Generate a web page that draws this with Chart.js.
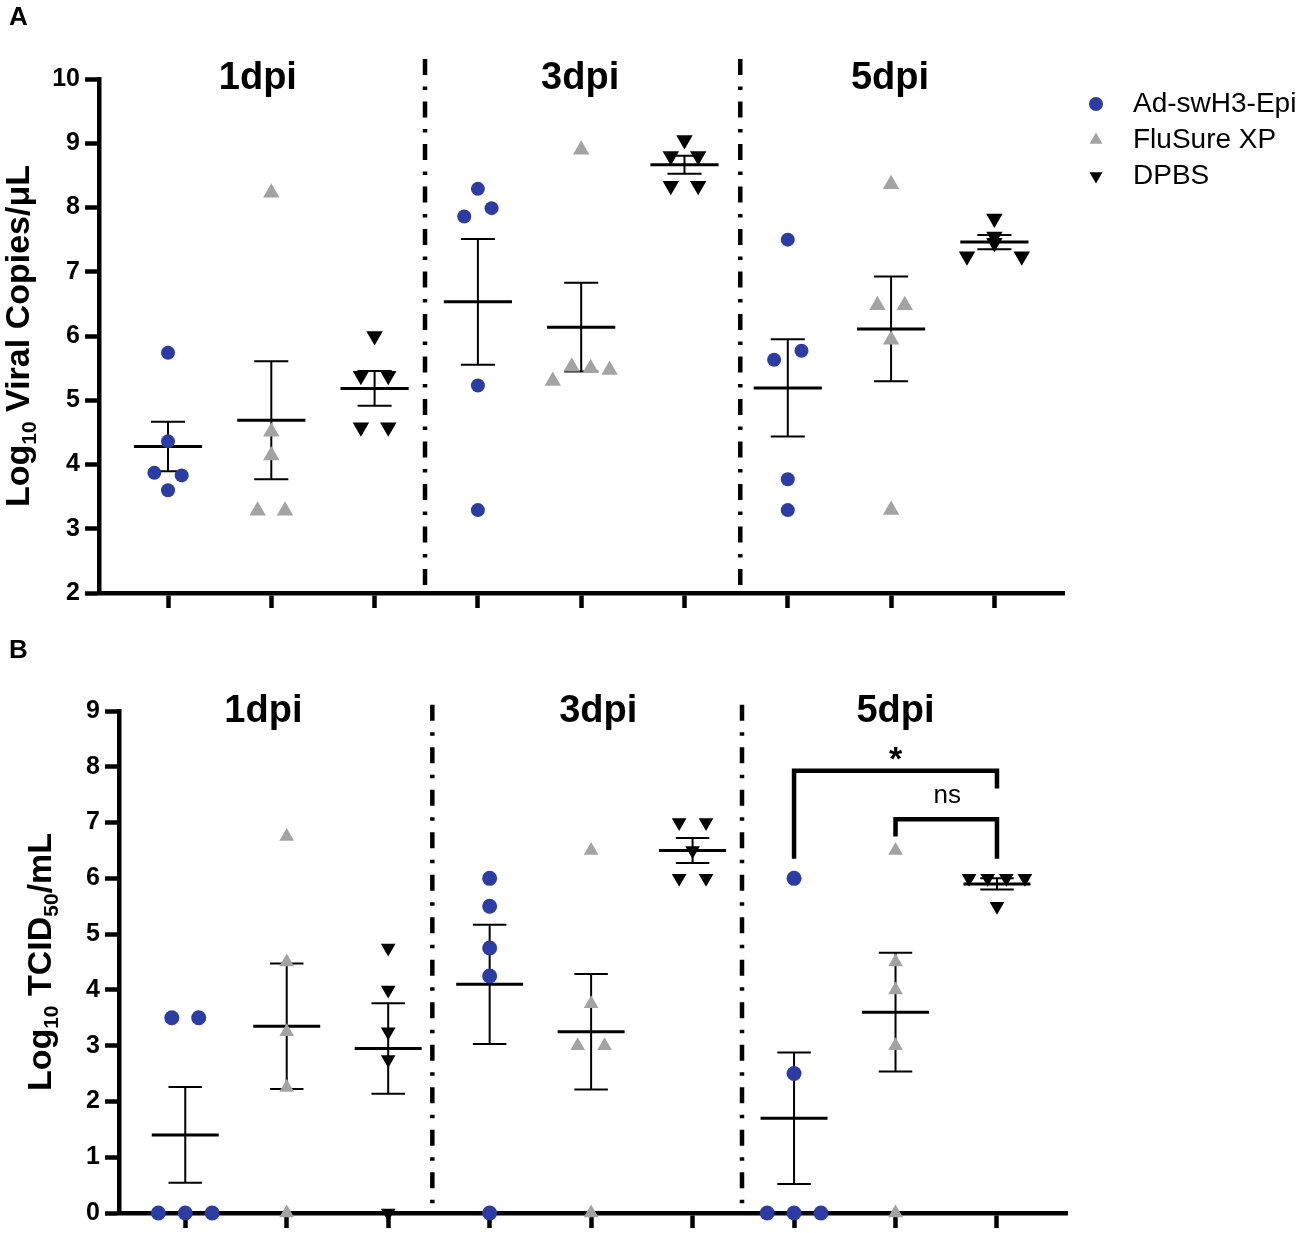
<!DOCTYPE html>
<html>
<head>
<meta charset="utf-8">
<script src="https://cdn.jsdelivr.net/npm/chart.js@4.4.1/dist/chart.umd.min.js"></script>
<style>
  html, body { margin: 0; padding: 0; background: #fff; }
  body { width: 1299px; height: 1233px; position: relative; overflow: hidden; }
  canvas { position: absolute; left: 0; }
  #chartA { top: 0; }
  #chartB { top: 620px; }
</style>
</head>
<body>
<canvas id="chartA" width="1299" height="620" style="width:1299px;height:620px"></canvas>
<canvas id="chartB" width="1299" height="613" style="width:1299px;height:613px"></canvas>
<script>
const groups = ["Ad-swH3-Epi", "FluSure XP", "DPBS"];
const days = ["1dpi", "3dpi", "5dpi"];

// A: log10 viral copies/uL, 5 animals, one row per day (1, 3, 5 dpi)
const adViral = [[5.74, 4.36, 3.87, 3.83, 3.60], [8.29, 7.86, 7.99, 5.23, 3.29], [7.50, 5.63, 5.77, 3.77, 3.29]];
const fluViral = [[8.23, 4.51, 4.14, 3.28, 3.28], [8.90, 5.30, 5.52, 5.50, 5.47], [8.36, 6.48, 6.48, 5.94, 3.29]];
const dpbsViral = [[6.00, 5.38, 5.38, 4.58, 4.58], [9.05, 8.80, 8.80, 8.34, 8.34], [7.83, 7.55, 7.24, 7.45, 7.24]];

// B: log10 TCID50/mL
const adTcid = [[3.5, 3.5, 0, 0, 0], [6.0, 5.5, 4.75, 4.25, 0], [6.0, 2.5, 0, 0, 0]];
const fluTcid = [[6.75, 4.5, 3.25, 2.25, 0], [6.5, 3.75, 3.0, 3.0, 0], [6.5, 4.5, 4.0, 3.0, 0]];
const dpbsTcid = [[4.75, 4.0, 3.25, 2.75, 0], [7.0, 7.0, 6.5, 6.0, 6.0], [6.0, 6.0, 6.0, 6.0, 5.5]];

const viralTicks = [2, 3, 4, 5, 6, 7, 8, 9, 10];
const tcidTicks = [0, 1, 2, 3, 4, 5, 6, 7, 8, 9];

const FONT = '"Liberation Sans", Arial, Helvetica, sans-serif';
const BLUE = "#2B3CA4";
const GREY = "#A3A3A3";
const BLACK = "#000000";
const markers = [
    { style: "circle", rotation: 0, color: BLUE },
    { style: "triangle", rotation: 0, color: GREY },
    { style: "triangle", rotation: 180, color: BLACK }
];

Chart.defaults.font.family = FONT;
Chart.defaults.color = BLACK;

// mean and SEM of a group
function meanSem(v) {
    const n = v.length;
    const m = v.reduce((a, b) => a + b, 0) / n;
    const sd = Math.sqrt(v.reduce((a, b) => a + (b - m) * (b - m), 0) / (n - 1));
    return [m, sd / Math.sqrt(n)];
}

// horizontal spread of points that would overlap (like a column scatter)
function spread(values, thresh) {
    const order = values.map((v, i) => i).sort((a, b) => values[a] - values[b]);
    const off = values.map(() => 0);
    let i = 0;
    while (i < order.length) {
        let j = i;
        while (j + 1 < order.length && values[order[j + 1]] - values[order[i]] < thresh) j++;
        const members = order.slice(i, j + 1).sort((a, b) => a - b);
        const n = members.length;
        if (n > 1) {
            const step = Math.min(0.265, 0.55 / (n - 1));
            members.forEach((idx, k) => { off[idx] = (k - (n - 1) / 2) * step; });
        }
        i = j + 1;
    }
    return off;
}

function lineSet(data, width, extra) {
    return Object.assign({
        type: "line", data: data, borderColor: BLACK, borderWidth: width,
        pointRadius: 0, pointHoverRadius: 0, spanGaps: false, clip: false,
        borderCapStyle: "butt", borderJoinStyle: "miter", tension: 0
    }, extra || {});
}

function makeDecor(p) {
    return {
        id: "decor" + p.letter,
        afterDraw(chart) {
            const ctx = chart.ctx;
            const xs = chart.scales.x, ys = chart.scales.y;
            ctx.save();
            ctx.fillStyle = BLACK;

            ctx.font = "bold 26px " + FONT;
            ctx.textAlign = "left";
            ctx.textBaseline = "alphabetic";
            ctx.fillText(p.letter, 9, p.letterBaseline);

            ctx.font = "bold 38px " + FONT;
            ctx.textAlign = "center";
            days.forEach((d, i) => ctx.fillText(d, xs.getPixelForValue(p.titleX[i]), p.titleBaseline));

            // rotated y title with subscripts
            ctx.save();
            ctx.translate(p.yTitleX, (chart.chartArea.top + chart.chartArea.bottom) / 2 + p.yTitleShift);
            ctx.rotate(-Math.PI / 2);
            ctx.textAlign = "left";
            const mainF = "bold 34px " + FONT, subF = "bold 21px " + FONT;
            let total = 0;
            p.yTitle.forEach(part => { ctx.font = part.sub ? subF : mainF; total += ctx.measureText(part.t).width; });
            let tx = -total / 2;
            p.yTitle.forEach(part => {
                ctx.font = part.sub ? subF : mainF;
                ctx.fillText(part.t, tx, part.sub ? 7 : 0);
                tx += ctx.measureText(part.t).width;
            });
            ctx.restore();

            if (p.legend) {
                ctx.textAlign = "left";
                ctx.textBaseline = "middle";
                ctx.font = "28px " + FONT;
                groups.forEach((g, i) => {
                    const y = p.legend.y[i];
                    ctx.fillStyle = markers[i].color;
                    Chart.helpers.drawPoint(ctx, {
                        pointStyle: markers[i].style, rotation: markers[i].rotation,
                        radius: p.legend.r[i], borderWidth: 0
                    }, p.legend.mx, y);
                    ctx.fillStyle = BLACK;
                    ctx.fillText(g, p.legend.tx, y);
                });
            }

            (p.brackets || []).forEach(b => {
                ctx.fillStyle = BLACK;
                ctx.textAlign = "center";
                ctx.textBaseline = "alphabetic";
                ctx.font = b.font;
                ctx.fillText(b.label, xs.getPixelForValue(b.labelX), ys.getPixelForValue(b.labelY) + b.shift);
            });
            ctx.restore();
        }
    };
}

function buildPanel(p) {
    const datasets = [];
    groups.forEach((g, gi) => {
        const data = [];
        p.series[gi].forEach((vals, di) => {
            const cat = di * 3 + gi;
            const off = spread(vals, p.thresh);
            vals.forEach((v, k) => data.push({ x: cat + off[k], y: v }));
        });
        datasets.push({
            type: "scatter", label: g, data: data,
            pointStyle: markers[gi].style, pointRotation: markers[gi].rotation,
            pointRadius: p.radius[gi], pointHoverRadius: p.radius[gi],
            pointBackgroundColor: markers[gi].color, pointBorderColor: markers[gi].color,
            pointBorderWidth: 0, clip: false
        });
    });

    const meanData = [], semData = [];
    p.series.forEach((byDay, gi) => byDay.forEach((vals, di) => {
        const c = di * 3 + gi;
        const ms = meanSem(vals);
        const m = ms[0], s = ms[1];
        meanData.push({ x: c - 0.33, y: m }, { x: c + 0.33, y: m }, { x: c, y: null });
        semData.push(
            { x: c, y: m - s }, { x: c, y: m + s }, { x: c, y: null },
            { x: c - 0.165, y: m + s }, { x: c + 0.165, y: m + s }, { x: c, y: null },
            { x: c - 0.165, y: m - s }, { x: c + 0.165, y: m - s }, { x: c, y: null }
        );
    }));
    datasets.push(lineSet(meanData, 3));
    datasets.push(lineSet(semData, 2));

    p.separators.forEach(sx => {
        datasets.push(lineSet([{ x: sx, y: p.sepTop }, { x: sx, y: p.yTicks[0] }], 4.5, { borderDash: [16, 11.5, 3.5, 11.5] }));
    });

    (p.brackets || []).forEach(b => {
        datasets.push(lineSet([
            { x: b.from, y: b.leftDrop }, { x: b.from, y: b.y },
            { x: b.to, y: b.y }, { x: b.to, y: b.rightDrop }
        ], 4.5));
    });

    const W = 1299;
    new Chart(document.getElementById(p.canvas), {
        type: "scatter",
        data: { datasets: datasets },
        options: {
            responsive: false,
            animation: false,
            events: [],
            layout: { padding: { left: 0, top: p.area.top, right: W - p.area.right, bottom: 0 } },
            plugins: { legend: { display: false }, tooltip: { enabled: false }, title: { display: false } },
            scales: {
                x: {
                    type: "linear", min: p.xMin, max: p.xMax,
                    afterBuildTicks: s => { s.ticks = [0, 1, 2, 3, 4, 5, 6, 7, 8].map(v => ({ value: v })); },
                    afterFit: s => { s.height = p.height - p.area.bottom; },
                    ticks: { display: false },
                    grid: { drawOnChartArea: false, drawTicks: true, tickLength: 15, tickWidth: 4.5, tickColor: BLACK },
                    border: { display: true, width: 4.5, color: BLACK }
                },
                y: {
                    type: "linear", min: p.yTicks[0], max: p.yTicks[p.yTicks.length - 1],
                    afterBuildTicks: s => { s.ticks = p.yTicks.map(v => ({ value: v })); },
                    afterFit: s => { s.width = p.area.left; },
                    ticks: { color: BLACK, padding: 5, font: { size: 25, weight: "bold", family: FONT } },
                    grid: { drawOnChartArea: false, drawTicks: true, tickLength: 14, tickWidth: 4.5, tickColor: BLACK },
                    border: { display: true, width: 4.5, color: BLACK }
                }
            }
        },
        plugins: [makeDecor(p)]
    });
}

buildPanel({
    canvas: "chartA", letter: "A", letterBaseline: 25, height: 620,
    series: [adViral, fluViral, dpbsViral], yTicks: viralTicks,
    area: { left: 99, right: 1064, top: 79, bottom: 593 },
    xMin: -0.668, xMax: 8.674, thresh: 0.225, radius: [7, 9.5, 9.5],
    separators: [2.488, 5.54], sepTop: 10.31,
    titleX: [0.87, 3.99, 6.99], titleBaseline: 89,
    yTitle: [{ t: "Log" }, { t: "10", sub: true }, { t: " Viral Copies/\u03bcL" }], yTitleX: 29, yTitleShift: 0,
    legend: { mx: 1096, tx: 1133, y: [104, 140, 176], r: [7, 7.5, 7.5] }
});

buildPanel({
    canvas: "chartB", letter: "B", letterBaseline: 38, height: 613,
    series: [adTcid, fluTcid, dpbsTcid], yTicks: tcidTicks,
    area: { left: 119, right: 1067, top: 91, bottom: 596 },
    xMin: -0.653, xMax: 8.69, thresh: 0.3, radius: [7.5, 8.5, 8.5],
    separators: [2.435, 5.487], sepTop: 9.11,
    titleX: [0.77, 4.07, 7.0], titleBaseline: 102,
    yTitle: [{ t: "Log" }, { t: "10", sub: true }, { t: " TCID" }, { t: "50", sub: true }, { t: "/mL" }], yTitleX: 51, yTitleShift: 0,
    brackets: [
        { from: 6, to: 8, y: 7.93, leftDrop: 6.35, rightDrop: 7.61, label: "*", labelX: 7, labelY: 8.28, shift: 19, font: "bold 34px " + FONT },
        { from: 7, to: 8, y: 7.06, leftDrop: 6.75, rightDrop: 6.35, label: "ns", labelX: 7.51, labelY: 7.48, shift: 7, font: "26px " + FONT }
    ]
});
</script>
</body>
</html>
